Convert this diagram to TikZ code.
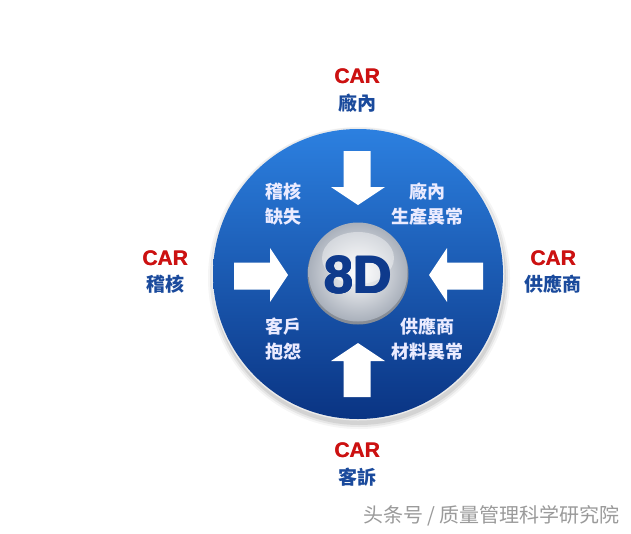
\documentclass[tikz,border=0pt]{standalone}
\usepackage{fontspec}
\setmainfont{Liberation Sans}
\newfontfamily\cjk{Noto Sans CJK TC}
\newfontfamily\cjksc{Noto Sans CJK SC}
\usetikzlibrary{shadings}
\definecolor{carred}{HTML}{CC1111}
\definecolor{lblblue}{HTML}{1A4A9C}
\definecolor{ctop}{HTML}{2C80E0}
\definecolor{cmid}{HTML}{1556B8}
\definecolor{cbot}{HTML}{0A3483}
\definecolor{eightd}{HTML}{0E3A8C}
\definecolor{ringgray}{HTML}{A9B0BB}
\definecolor{wmgray}{HTML}{9A9A9A}
\tikzset{
  carlbl/.style={font=\fontsize{21}{21}\selectfont\bfseries, text=carred, inner sep=0pt},
  outlbl/.style={font=\fontsize{19}{19}\cjk\bfseries, text=lblblue, inner sep=0pt},
  inlbl/.style={font=\fontsize{18}{25}\cjk\bfseries, text=white!92!blue, align=center, inner sep=0pt},
  bigarrow/.style={fill=white, draw=none},
  eightdlbl/.style={font=\fontsize{53}{53}\selectfont\bfseries, text=eightd, inner sep=0pt},
}
\begin{document}
\begin{tikzpicture}[x=1pt,y=-1pt]
\useasboundingbox (0,0) rectangle (631,533);
\fill[white] (0,0) rectangle (631,533);
% soft shadow
\foreach \r/\o in {151/0.04,149/0.06,147/0.08}{
  \fill[black,opacity=\o] (359,278) circle (\r);
}
% main circle
\fill[white!85!gray] (358,274) circle (146.5);
\shade[top color=ctop, middle color=cmid, bottom color=cbot] (358,274) circle (145);
% inner circle
\fill[ringgray!80!black] (358,274) circle (50.5);
\shade[inner color=white, outer color=ringgray] (358,272) circle (49.5);
\fill[white,opacity=0.4] (358,258) ellipse (36 and 26);
\foreach \dx/\dy in {-0.7/0,0.7/0,0/-0.5,0/0.5}{
  \node[eightdlbl] at (358+\dx,275+\dy) {8D};
}
\node[eightdlbl] (e8d) at (358,275) {8D};
% arrows
\fill[bigarrow] (343.5,151) -- (370.5,151) -- (370.5,187) -- (385,187) -- (358,205) -- (331,187) -- (343.5,187) -- cycle;
\fill[bigarrow] (343.5,397) -- (370.5,397) -- (370.5,361) -- (385,361) -- (358,343) -- (331,361) -- (343.5,361) -- cycle;
\fill[bigarrow] (234,262.5) -- (270,262.5) -- (270,248) -- (288,275) -- (270,302) -- (270,289.5) -- (234,289.5) -- cycle;
\fill[bigarrow] (483,262.5) -- (447,262.5) -- (447,248) -- (429,275) -- (447,302) -- (447,289.5) -- (483,289.5) -- cycle;
% inner labels
\node[inlbl] (ia) at (283,204) {稽核\\缺失};
\node[inlbl] (ib) at (427,204) {廠內\\生產異常};
\node[inlbl] (ic) at (283,339) {客戶\\抱怨};
\node[inlbl] (id) at (427,339) {供應商\\材料異常};
% outer labels
\foreach \x/\y in {357/76,165/258,553/258,357/450}{
  \node[carlbl] at (\x+0.5,\y) {CAR};
}
\node[carlbl] (ct) at (357,76) {CAR};
\node[outlbl] (lt) at (357,103) {廠內};
\node[carlbl] (cl) at (165,258) {CAR};
\node[outlbl] (ll) at (165,284) {稽核};
\node[carlbl] (cr) at (553,258) {CAR};
\node[outlbl] (lr) at (553,284) {供應商};
\node[carlbl] (cb) at (357,450) {CAR};
\node[outlbl] (lb) at (357,477) {客訴};
% watermark
\node[font=\fontsize{20}{20}\cjksc, text=wmgray, anchor=east, inner sep=0pt] (wm) at (620,516) {头条号 / 质量管理科学研究院};
\end{tikzpicture}
\end{document}
